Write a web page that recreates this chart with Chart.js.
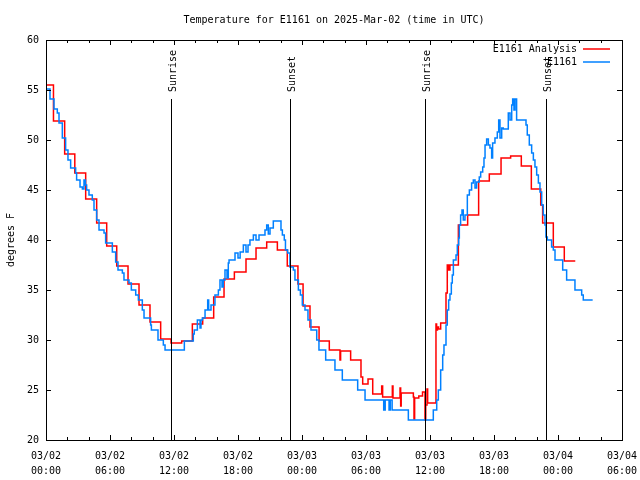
<!DOCTYPE html>
<html>
<head>
<meta charset="utf-8">
<script src="https://cdn.jsdelivr.net/npm/chart.js@4/dist/chart.umd.min.js"></script>
<style>
  html, body { margin: 0; padding: 0; background: #fff; }
  #wrap { width: 640px; height: 480px; }
</style>
</head>
<body>
<div id="wrap"><canvas id="chart" width="640" height="480"></canvas></div>
<script>
// hours since 2025-03-02 00:00 UTC
const analysisHours = [0.0, 0.7, 1.75, 2.7, 3.72, 4.75, 5.69, 6.63, 7.69, 8.72, 9.75, 10.75, 11.72, 12.72, 13.72, 14.69, 15.72, 16.69, 17.66, 18.75, 19.69, 20.69, 21.69, 22.62, 23.62, 24.1, 24.75, 25.6, 26.56, 27.56, 27.62, 28.56, 29.53, 29.69, 30.19, 30.63, 31.47, 31.56, 32.47, 32.53, 33.19, 33.25, 33.3, 34.44, 34.5, 34.56, 34.95, 35.3, 35.53, 35.6, 35.72, 35.78, 36.56, 36.62, 36.7, 36.8, 37.0, 37.5, 37.62, 37.75, 37.87, 38.66, 39.53, 40.56, 41.56, 42.66, 43.56, 44.56, 45.5, 46.38, 46.56, 47.56, 48.59, 49.62];
const analysisTemps = [55.5, 51.9, 48.6, 46.7, 44.1, 41.7, 39.4, 37.4, 35.6, 33.5, 31.8, 30.1, 29.7, 29.9, 31.6, 32.2, 34.3, 36.1, 36.8, 38.1, 39.2, 39.8, 39.0, 37.4, 35.6, 33.4, 31.3, 29.9, 29.0, 28.0, 28.9, 28.0, 26.3, 25.6, 26.1, 24.6, 25.4, 24.3, 25.4, 24.2, 25.2, 23.4, 24.7, 24.3, 22.1, 24.2, 24.4, 24.8, 22.0, 23.5, 25.1, 23.7, 31.6, 31.0, 31.3, 31.1, 31.7, 34.7, 37.5, 37.0, 37.5, 41.5, 42.5, 45.9, 46.6, 48.2, 48.4, 47.4, 45.1, 43.5, 41.7, 39.3, 37.9, 37.9];

const stationHours = [0.05, 0.375, 0.75, 1.06, 1.22, 1.53, 1.84, 2.06, 2.31, 2.78, 2.87, 3.19, 3.41, 3.56, 3.7, 3.81, 4.03, 4.34, 4.5, 4.75, 4.97, 5.44, 5.59, 6.22, 6.53, 6.75, 7.16, 7.31, 7.78, 8.0, 8.41, 8.66, 9.03, 9.19, 9.81, 9.88, 10.5, 11.0, 11.16, 12.97, 13.81, 13.9, 14.19, 14.44, 14.53, 14.66, 14.91, 15.16, 15.25, 15.47, 15.84, 16.16, 16.31, 16.5, 16.62, 16.78, 16.97, 17.09, 17.16, 17.72, 18.0, 18.2, 18.5, 18.75, 18.94, 19.12, 19.44, 19.69, 19.97, 20.53, 20.69, 20.84, 21.0, 21.31, 22.03, 22.16, 22.34, 22.45, 22.66, 22.87, 23.19, 23.34, 23.66, 23.85, 24.03, 24.28, 24.56, 24.84, 25.38, 25.59, 26.22, 27.09, 27.78, 29.22, 29.91, 31.66, 31.8, 32.16, 32.28, 32.45, 33.97, 36.31, 36.63, 36.78, 37.0, 37.19, 37.31, 37.5, 37.62, 37.75, 37.87, 38.0, 38.09, 38.19, 38.44, 38.56, 38.69, 38.75, 38.87, 39.0, 39.12, 39.28, 39.5, 39.69, 39.9, 40.06, 40.22, 40.37, 40.62, 40.75, 40.94, 41.06, 41.16, 41.31, 41.47, 41.62, 41.78, 41.87, 42.09, 42.31, 42.44, 42.56, 42.72, 42.87, 43.34, 43.5, 43.66, 43.75, 43.87, 43.97, 44.12, 45.0, 45.12, 45.31, 45.53, 45.69, 45.84, 46.0, 46.16, 46.31, 46.47, 46.62, 46.78, 46.87, 47.0, 47.4, 47.56, 47.72, 48.44, 48.81, 49.59, 50.22, 50.37, 51.25];
const stationTemps = [55.1, 54.1, 53.1, 52.7, 51.7, 50.2, 49.0, 48.0, 47.2, 46.7, 46.0, 45.3, 45.1, 46.0, 45.5, 45.0, 44.5, 44.0, 43.0, 42.0, 41.0, 40.7, 39.7, 38.8, 37.8, 37.0, 36.7, 36.0, 35.7, 35.0, 34.5, 34.0, 33.0, 32.2, 31.5, 31.0, 30.0, 29.5, 29.0, 29.9, 30.6, 31.0, 32.0, 31.2, 32.0, 32.2, 33.0, 34.0, 33.0, 33.5, 34.5, 35.0, 36.0, 35.3, 36.0, 37.0, 36.2, 37.7, 38.0, 38.7, 38.2, 38.8, 39.5, 38.8, 39.5, 40.0, 40.5, 40.0, 40.5, 41.0, 41.5, 40.6, 41.2, 41.9, 41.0, 40.5, 40.0, 39.0, 38.7, 37.3, 37.0, 36.0, 35.0, 34.5, 33.5, 33.0, 32.0, 31.0, 30.0, 29.0, 28.0, 27.0, 26.0, 25.0, 24.0, 23.0, 24.0, 23.0, 24.0, 23.0, 22.0, 23.0, 24.0, 25.0, 27.0, 28.5, 29.5, 31.5, 33.0, 34.0, 34.6, 35.7, 36.5, 38.0, 38.5, 39.5, 40.2, 41.5, 42.5, 43.0, 42.0, 42.5, 44.5, 45.0, 45.7, 46.0, 45.2, 45.8, 46.3, 46.8, 47.3, 48.2, 49.5, 50.1, 49.5, 49.2, 48.2, 49.7, 50.2, 50.8, 52.0, 50.2, 51.2, 51.1, 52.7, 52.0, 53.5, 54.1, 53.0, 54.1, 52.0, 51.5, 50.5, 49.5, 48.7, 48.0, 47.3, 46.5, 45.7, 44.8, 43.5, 42.5, 41.5, 40.3, 40.0, 39.3, 39.0, 38.0, 37.0, 36.0, 35.0, 34.5, 34.0, 34.0];

const sunHours = [11.69, 22.92, 35.56, 46.9];
const sunLabels = ["Sunrise", "Sunset", "Sunrise", "Sunset"];

const xTickDays = ["03/02", "03/02", "03/02", "03/02", "03/03", "03/03", "03/03", "03/03", "03/04", "03/04"];
const xTickTimes = ["00:00", "06:00", "12:00", "18:00", "00:00", "06:00", "12:00", "18:00", "00:00", "06:00"];

const seriesNames = ["E1161 Analysis", "E1161"];
const seriesColors = ["#ff0000", "#0080ff"];

const FONT = "10px 'DejaVu Sans Mono', 'Liberation Mono', monospace";

function toPoints(xs, ys) {
  return xs.map((x, i) => ({ x: x, y: ys[i] }));
}

// gnuplot-like decorations: frame, inward ticks, sun markers, legend, titles
const gnuplotDecor = {
  id: "gnuplotDecor",
  afterDatasetsDraw(chart) {
    const ctx = chart.ctx;
    const area = chart.chartArea;
    const xs = chart.scales.x;
    const ys = chart.scales.y;
    ctx.save();
    ctx.strokeStyle = "#000";
    ctx.fillStyle = "#000";
    ctx.lineWidth = 1;

    // sunrise / sunset lines
    const lineTop = ys.getPixelForValue(54.1);
    sunHours.forEach((h, i) => {
      const px = Math.round(xs.getPixelForValue(h)) + 0.5;
      ctx.beginPath();
      ctx.moveTo(px, lineTop);
      ctx.lineTo(px, area.bottom);
      ctx.stroke();
      ctx.save();
      ctx.translate(px + 2, lineTop - 7);
      ctx.rotate(-Math.PI / 2);
      ctx.font = FONT;
      ctx.textAlign = "left";
      ctx.textBaseline = "middle";
      ctx.fillText(sunLabels[i], 0, 0);
      ctx.restore();
    });

    // frame
    ctx.strokeRect(area.left + 0.5, area.top + 0.5, area.right - area.left, area.bottom - area.top);

    // inward ticks (major + minor on x, major on y), mirrored
    ctx.beginPath();
    for (let h = 0; h <= 54; h += 2) {
      const px = Math.round(xs.getPixelForValue(h)) + 0.5;
      const len = h % 6 === 0 ? 5 : 3;
      ctx.moveTo(px, area.bottom);
      ctx.lineTo(px, area.bottom - len);
      ctx.moveTo(px, area.top);
      ctx.lineTo(px, area.top + len);
    }
    for (let v = 20; v <= 60; v += 5) {
      const py = Math.round(ys.getPixelForValue(v)) + 0.5;
      ctx.moveTo(area.left, py);
      ctx.lineTo(area.left + 5, py);
      ctx.moveTo(area.right, py);
      ctx.lineTo(area.right - 5, py);
    }
    ctx.stroke();

    // legend
    ctx.font = FONT;
    ctx.textAlign = "right";
    ctx.textBaseline = "middle";
    const legendRows = [49, 62];
    seriesNames.forEach((name, i) => {
      ctx.fillStyle = "#000";
      ctx.fillText(name, 577, legendRows[i]);
      ctx.strokeStyle = seriesColors[i];
      ctx.lineWidth = 1.5;
      ctx.beginPath();
      ctx.moveTo(583, legendRows[i]);
      ctx.lineTo(610, legendRows[i]);
      ctx.stroke();
    });

    // title and y label
    ctx.fillStyle = "#000";
    ctx.textAlign = "center";
    ctx.fillText("Temperature for E1161 on 2025-Mar-02 (time in UTC)", (area.left + area.right) / 2, 20);
    ctx.save();
    ctx.translate(11, (area.top + area.bottom) / 2);
    ctx.rotate(-Math.PI / 2);
    ctx.fillText("degrees F", 0, 0);
    ctx.restore();

    ctx.restore();
  }
};

new Chart(document.getElementById("chart"), {
  type: "line",
  data: {
    datasets: [
      {
        label: seriesNames[0],
        data: toPoints(analysisHours, analysisTemps),
        borderColor: seriesColors[0],
        borderWidth: 1.5,
        stepped: "before",
        pointRadius: 0,
        fill: false,
        order: 2,
      },
      {
        label: seriesNames[1],
        data: toPoints(stationHours, stationTemps),
        borderColor: seriesColors[1],
        borderWidth: 1.5,
        stepped: "before",
        pointRadius: 0,
        fill: false,
        order: 1,
      },
    ],
  },
  options: {
    responsive: false,
    animation: false,
    devicePixelRatio: 1,
    layout: { padding: { top: 40, right: 18, left: 0, bottom: 0 } },
    plugins: {
      legend: { display: false },
      tooltip: { enabled: false },
      title: { display: false },
    },
    scales: {
      x: {
        type: "linear",
        min: 0,
        max: 54,
        grid: { display: false, drawTicks: false },
        border: { display: false },
        afterFit: (scale) => {
          scale.height = 40;
          scale.paddingLeft = 0;
          scale.paddingRight = 0;
        },
        ticks: {
          stepSize: 6,
          autoSkip: false,
          maxRotation: 0,
          padding: 9,
          color: "#000",
          font: { family: "'DejaVu Sans Mono', monospace", size: 10, lineHeight: 1.5 },
          callback: (value, index) => [xTickDays[index], xTickTimes[index]],
        },
      },
      y: {
        min: 20,
        max: 60,
        grid: { display: false, drawTicks: false },
        border: { display: false },
        afterFit: (scale) => {
          scale.width = 46;
          scale.paddingTop = 0;
          scale.paddingBottom = 0;
        },
        ticks: {
          stepSize: 5,
          padding: 7,
          color: "#000",
          font: { family: "'DejaVu Sans Mono', monospace", size: 10 },
        },
      },
    },
  },
  plugins: [gnuplotDecor],
});
</script>
</body>
</html>
